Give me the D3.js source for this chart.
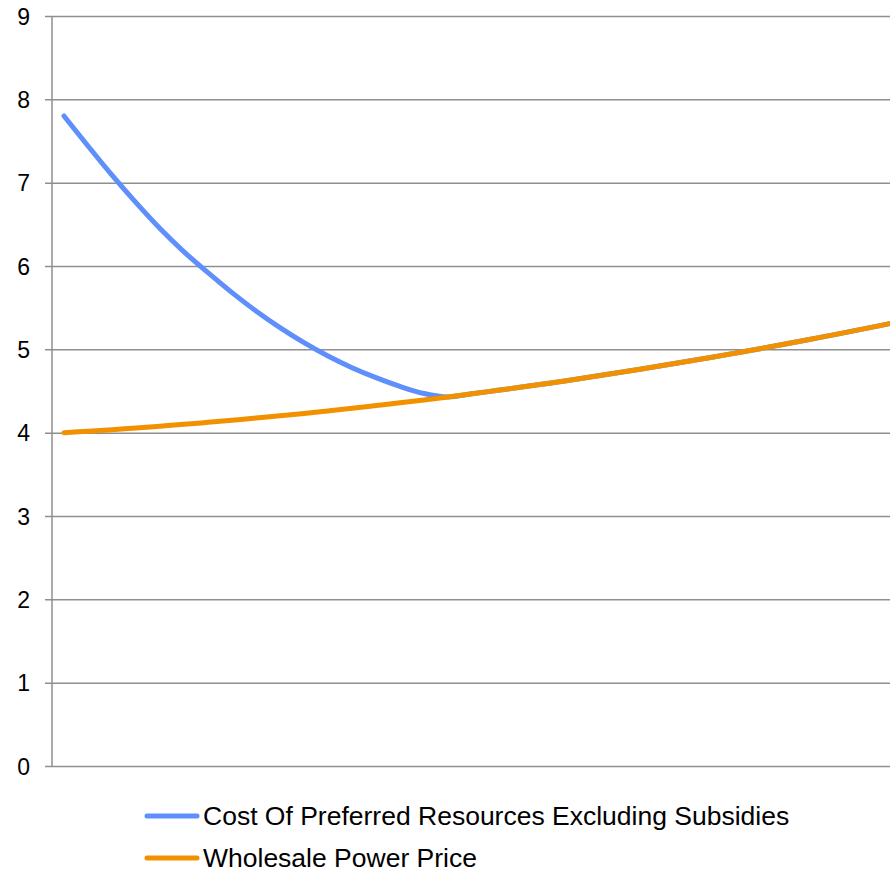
<!DOCTYPE html>
<html>
<head>
<meta charset="utf-8">
<script src="https://cdn.jsdelivr.net/npm/d3@7"></script>
<style>
  html, body { margin: 0; padding: 0; background: #ffffff; overflow: hidden; }
  svg { display: block; font-family: "Liberation Sans", Arial, sans-serif; }
</style>
</head>
<body>
<svg id="chart" width="890" height="874"></svg>
<script>
// Cost of preferred resources vs. wholesale power price (cents/kWh)
const preferredCost = [
  7.800, 7.440, 7.090, 6.760, 6.450, 6.170, 5.920, 5.680, 5.460, 5.260,
  5.080, 4.920, 4.780, 4.660, 4.555, 4.470, 4.429, 4.466, 4.505, 4.544,
  4.585, 4.627, 4.670, 4.715, 4.761, 4.808, 4.856, 4.905, 4.956, 5.008,
  5.061, 5.115, 5.171, 5.227, 5.285, 5.344
];
const wholesalePrice = [
  4.000, 4.018, 4.036, 4.057, 4.078, 4.100, 4.124, 4.149, 4.175, 4.203,
  4.231, 4.261, 4.292, 4.325, 4.358, 4.393, 4.429, 4.466, 4.505, 4.544,
  4.585, 4.627, 4.670, 4.715, 4.761, 4.808, 4.856, 4.905, 4.956, 5.008,
  5.061, 5.115, 5.171, 5.227, 5.285, 5.344
];
const periods = preferredCost.map((_, i) => i);
const yTicks = [0, 1, 2, 3, 4, 5, 6, 7, 8, 9];
const seriesNames = ["Cost Of Preferred Resources Excluding Subsidies", "Wholesale Power Price"];
const seriesColors = ["#5e8ffa", "#f29100"];

const svg = d3.select("#chart");
const plotLeft = 52, plotTop = 16, plotBottom = 766;
const step = 24;
const plotRight = plotLeft + step * periods.length;

const x = d3.scaleLinear()
  .domain([-0.5, periods.length - 0.5])
  .range([plotLeft, plotRight]);
const y = d3.scaleLinear().domain([0, 9]).range([plotBottom, plotTop]);

// horizontal gridlines with tick stubs reaching left of the axis
const yAxis = d3.axisLeft(y)
  .tickValues(yTicks)
  .tickSize(-(plotRight - plotLeft))
  .tickSizeOuter(0)
  .tickPadding(0)
  .tickFormat(d3.format("d"));
const gAxis = svg.append("g").attr("transform", `translate(${plotLeft},0)`).call(yAxis);
gAxis.select(".domain").remove();
gAxis.selectAll(".tick line")
  .attr("x1", -7)
  .attr("stroke", "#8f8f8f")
  .attr("stroke-width", 1.5);
gAxis.selectAll(".tick text")
  .attr("x", -22)
  .attr("dy", "0.35em")
  .attr("fill", "#000")
  .style("font-size", "23px")
  .style("font-family", "Liberation Sans, Arial, sans-serif");

// vertical value axis line
svg.append("line")
  .attr("x1", plotLeft).attr("x2", plotLeft)
  .attr("y1", y(9)).attr("y2", y(0))
  .attr("stroke", "#8f8f8f")
  .attr("stroke-width", 1.5);

const line = d3.line()
  .x((d, i) => x(periods[i]))
  .y(d => y(d))
  .curve(d3.curveCatmullRom.alpha(0.5));

[preferredCost, wholesalePrice].forEach((vals, k) => {
  svg.append("path")
    .datum(vals)
    .attr("d", line)
    .attr("fill", "none")
    .attr("stroke", seriesColors[k])
    .attr("stroke-width", 5)
    .attr("stroke-linecap", "round")
    .attr("stroke-linejoin", "round");
});

// legend
const legend = svg.append("g").attr("transform", "translate(147,816)");
seriesNames.forEach((name, k) => {
  const row = legend.append("g").attr("transform", `translate(0,${k * 42})`);
  row.append("line")
    .attr("x1", 0).attr("x2", 50)
    .attr("stroke", seriesColors[k])
    .attr("stroke-width", 5)
    .attr("stroke-linecap", "round");
  row.append("text")
    .attr("x", 56)
    .attr("dy", "0.35em")
    .style("font-size", "26.5px")
    .attr("fill", "#000")
    .text(name);
});
</script>
</body>
</html>
